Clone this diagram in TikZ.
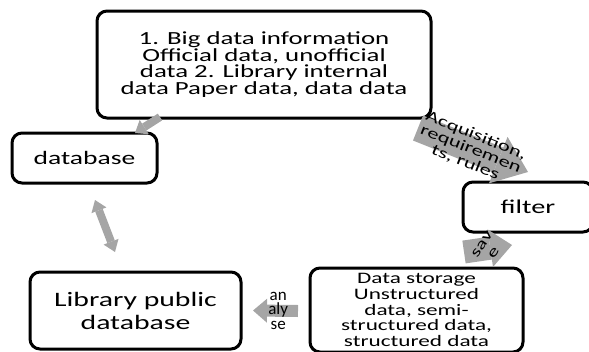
\documentclass[tikz,border=0pt]{standalone}
\usepackage{fontspec}
\setmainfont{Carlito}[FakeStretch=1.45]
\newfontfamily\plainfont{Carlito}
\usetikzlibrary{arrows.meta,calc}
\definecolor{arrowgray}{HTML}{A5A5A5}

\begin{document}
\begin{tikzpicture}[x=1pt,y=-1pt,
    box node/.style={draw,line width=3pt,rounded corners=10pt,align=center,
                     inner sep=0pt,outer sep=0pt},
    gray arrow/.style={draw=arrowgray,line width=#1},
    arrow label/.style={align=center,inner sep=0pt,text=black}]

  \useasboundingbox (0,0) rectangle (589,351);

  \node[box node,minimum width=334pt,minimum height=107pt,
        font=\fontsize{18.5}{15.5}\selectfont] (info) at (264,64.5)
    {1. Big data information\\Official data, unofficial\\data 2. Library internal\\data Paper data, data data};
  \node[box node,minimum width=145pt,minimum height=50pt,
        font=\fontsize{19}{20}\selectfont] (db) at (84.5,158) {database};
  \node[box node,minimum width=130pt,minimum height=50pt,
        font=\fontsize{19.5}{20}\selectfont] (filter) at (528,207) {filter};
  \node[box node,minimum width=211pt,minimum height=77pt,
        font=\fontsize{20.5}{23}\selectfont] (lib) at (135.5,310.5) {Library public\\database};
  \node[box node,minimum width=213pt,minimum height=84pt,
        font=\fontsize{16}{15.7}\selectfont] (store) at (416.5,310)
    {Data storage\\Unstructured\\data, semi-\\structured data,\\structured data};

  % gray block arrows
  \draw[gray arrow=8pt,-{Triangle[length=11pt,width=17pt,line width=0pt]}]
    ($(info.south west)+(63,-1)$) -- ($(db.north east)+(-22,0)$);
  \draw[gray arrow=27pt,-{Triangle[length=32pt,width=50pt,line width=0pt]}]
    ($(info.south east)+(-13,10)$) -- ($(filter.north west)+(65,-10)$)
    node[arrow label,sloped,pos=0.48,font=\fontsize{15.5}{14.5}\selectfont] (acqlbl)
      {Acquisition,\\requiremen\\ts, rules};
  \draw[gray arrow=8pt,{Triangle[length=11pt,width=16pt,line width=0pt]}-{Triangle[length=11pt,width=16pt,line width=0pt]}]
    ($(db.south west)+(83,17)$) -- ($(lib.north west)+(85,-20)$);
  \draw[gray arrow=23pt,-{Triangle[length=22pt,width=38pt,line width=0pt]}]
    ($(filter.south west)+(1,20)$) -- ($(store.north east)+(-11,-23)$)
    node[arrow label,pos=0.5,rotate=55,font=\fontsize{15}{14}\selectfont] (savelbl) {sav\\e};
  \draw[gray arrow=12pt,-{Triangle[length=14pt,width=24pt,line width=0pt]}]
    ($(store.west)+(-12,1)$) -- ($(lib.east)+(12,0)$)
    node[arrow label,pos=0.44,font=\plainfont\fontsize{17}{14.5}\selectfont] (anlbl) {an\\aly\\se};
\end{tikzpicture}
\end{document}
